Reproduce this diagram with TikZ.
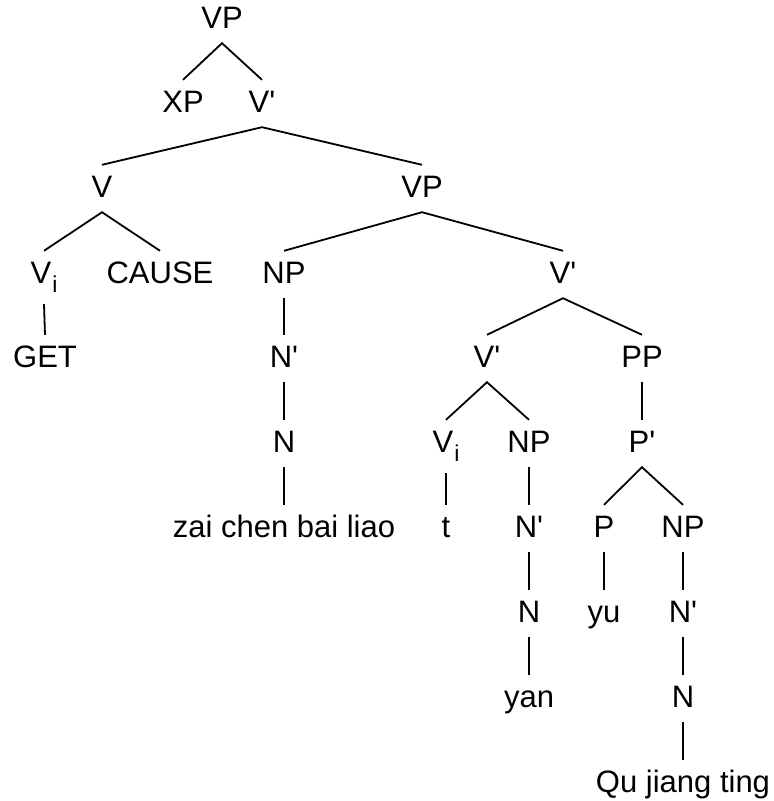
\documentclass[tikz,border=0pt]{standalone}
\usepackage{fontspec}
\setmainfont{Liberation Sans}[Ligatures=TeXOff]
\newcommand{\subi}{\kern1pt\raisebox{-9pt}{\fontsize{23}{23}\selectfont i}}
\begin{document}
\begin{tikzpicture}[x=1pt,y=-1pt,
  lbl/.style={anchor=base,inner xsep=0pt,inner ysep=11pt,
    text height=21pt,text depth=4pt,font=\fontsize{31}{36}\selectfont},
  lblsub/.style={lbl,text depth=10pt},
  edge/.style={line width=1.8pt}]
\useasboundingbox (0,0) rectangle (774,801);
% node labels, one row per tree level
\node[lbl] (vpA)   at (222,28)  {VP};
\node[lbl] (xp)    at (183,112) {XP};
\node[lbl] (vbarA) at (262,112) {V'};
\node[lbl] (v)     at (102,197) {V};
\node[lbl] (vpB)   at (422,197) {VP};
\node[lblsub] (viA) at (44,283) {V\subi};
\node[lbl] (cause) at (160,283) {CAUSE};
\node[lbl] (npA)   at (284,283) {NP};
\node[lbl] (vbarB) at (563,283) {V'};
\node[lbl] (get)   at (45,367)  {GET};
\node[lbl] (nbarA) at (284,367) {N'};
\node[lbl] (vbarC) at (487,367) {V'};
\node[lbl] (pp)    at (642,367) {PP};
\node[lbl] (nA)    at (284,452) {N};
\node[lblsub] (viB) at (446,452) {V\subi};
\node[lbl] (npB)   at (529,452) {NP};
\node[lbl] (pbar)  at (642,452) {P'};
\node[lbl] (zai)   at (284,537) {zai chen bai liao};
\node[lbl] (t)     at (446,537) {t};
\node[lbl] (nbarB) at (529,537) {N'};
\node[lbl] (p)     at (604,537) {P};
\node[lbl] (npC)   at (683,537) {NP};
\node[lbl] (nB)    at (529,622) {N};
\node[lbl] (yu)    at (604,622) {yu};
\node[lbl] (nbarC) at (683,622) {N'};
\node[lbl] (yan)   at (529,707) {yan};
\node[lbl] (nC)    at (683,707) {N};
\node[lbl] (qu)    at (683,792) {Qu jiang ting};
% branches
\draw[edge] (xp.north) -- (vpA.south) -- (vbarA.north);
\draw[edge] (v.north) -- (vbarA.south) -- (vpB.north);
\draw[edge] (viA.north) -- (v.south) -- (cause.north);
\draw[edge] (npA.north) -- (vpB.south) -- (vbarB.north);
\draw[edge] (viA.south) -- (get.north);
\draw[edge] (npA.south) -- (nbarA.north);
\draw[edge] (vbarC.north) -- (vbarB.south) -- (pp.north);
\draw[edge] (nbarA.south) -- (nA.north);
\draw[edge] (viB.north) -- (vbarC.south) -- (npB.north);
\draw[edge] (pp.south) -- (pbar.north);
\draw[edge] (nA.south) -- (zai.north);
\draw[edge] (viB.south) -- (t.north);
\draw[edge] (npB.south) -- (nbarB.north);
\draw[edge] (p.north) -- (pbar.south) -- (npC.north);
\draw[edge] (nbarB.south) -- (nB.north);
\draw[edge] (p.south) -- (yu.north);
\draw[edge] (npC.south) -- (nbarC.north);
\draw[edge] (nB.south) -- (yan.north);
\draw[edge] (nbarC.south) -- (nC.north);
\draw[edge] (nC.south) -- (qu.north);
\end{tikzpicture}
\end{document}
